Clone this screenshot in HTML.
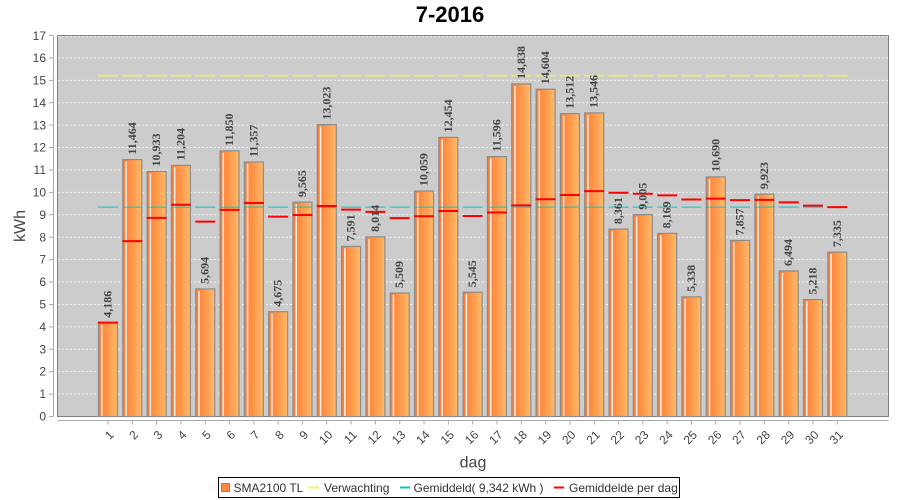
<!DOCTYPE html>
<html><head><meta charset="utf-8"><style>
html,body{margin:0;padding:0;background:#fff;}
svg{display:block;}
.yl{font-family:"Liberation Sans",sans-serif;font-size:12px;fill:#444;text-anchor:end;}
.xl{font-family:"Liberation Sans",sans-serif;font-size:12px;fill:#444;text-anchor:end;}
.bl{font-family:"Liberation Serif",serif;font-size:12px;font-weight:bold;fill:#444;}
.lg{font-family:"Liberation Sans",sans-serif;font-size:12px;fill:#333;}
</style></head><body>
<svg width="900" height="500" viewBox="0 0 900 500" xmlns="http://www.w3.org/2000/svg">
<defs>
<linearGradient id="g" x1="0" x2="1" y1="0" y2="0">
<stop offset="0" stop-color="#ff7a34"/>
<stop offset="0.5" stop-color="#ff984a"/>
<stop offset="1" stop-color="#ffbb6a"/>
</linearGradient>
</defs>
<rect width="900" height="500" fill="#fff"/>
<text x="450" y="22" text-anchor="middle" font-family="Liberation Sans, sans-serif" font-size="22" font-weight="bold" fill="#000">7-2016</text>

<!-- plot area -->
<rect x="57.5" y="35.5" width="831" height="381" fill="#cccccc" stroke="#808080" stroke-width="1"/>
<g stroke="#f4f4f4" stroke-width="1" stroke-dasharray="2 2">
<path d="M58,36.5H888 M58,57.91H888 M58,80.32H888 M58,102.73H888 M58,125.14H888 M58,147.56H888 M58,169.97H888 M58,192.38H888 M58,214.79H888 M58,237.2H888 M58,259.62H888 M58,282.03H888 M58,304.44H888 M58,326.85H888 M58,349.26H888 M58,371.68H888 M58,394.09H888"/>
</g>

<!-- axes -->
<line x1="53.5" y1="35.5" x2="53.5" y2="416.5" stroke="#aaa"/>
<path d="M49,35.5h4 M49,57.91h4 M49,80.32h4 M49,102.73h4 M49,125.14h4 M49,147.56h4 M49,169.97h4 M49,192.38h4 M49,214.79h4 M49,237.2h4 M49,259.62h4 M49,282.03h4 M49,304.44h4 M49,326.85h4 M49,349.26h4 M49,371.68h4 M49,394.09h4 M49,416.5h4" stroke="#aaa"/>
<line x1="57.5" y1="420.5" x2="888.5" y2="420.5" stroke="#aaa"/>
<line x1="107.5" y1="422.5" x2="838" y2="422.5" stroke="#aaa" stroke-width="4" stroke-dasharray="1 23.31"/>

<g class="yl">
<text x="46" y="40">17</text><text x="46" y="62">16</text><text x="46" y="84.5">15</text><text x="46" y="107">14</text><text x="46" y="129.5">13</text><text x="46" y="151.5">12</text><text x="46" y="174">11</text><text x="46" y="196.5">10</text><text x="46" y="219">9</text><text x="46" y="241.5">8</text><text x="46" y="263.5">7</text><text x="46" y="286">6</text><text x="46" y="308.5">5</text><text x="46" y="331">4</text><text x="46" y="353.5">3</text><text x="46" y="375.5">2</text><text x="46" y="398">1</text><text x="46" y="420.5">0</text>
</g>

<!-- bars -->
<g fill="url(#g)" stroke="#8c8c8c" stroke-width="1.2">
<rect x="98.5" y="322.68" width="19" height="93.82"/>
<rect x="122.81" y="159.57" width="19" height="256.93"/>
<rect x="147.12" y="171.47" width="19" height="245.03"/>
<rect x="171.43" y="165.4" width="19" height="251.1"/>
<rect x="195.74" y="288.89" width="19" height="127.61"/>
<rect x="220.05" y="150.92" width="19" height="265.58"/>
<rect x="244.36" y="161.97" width="19" height="254.53"/>
<rect x="268.67" y="311.72" width="19" height="104.78"/>
<rect x="292.98" y="202.13" width="19" height="214.37"/>
<rect x="317.29" y="124.63" width="19" height="291.87"/>
<rect x="341.6" y="246.37" width="19" height="170.13"/>
<rect x="365.91" y="236.89" width="19" height="179.61"/>
<rect x="390.22" y="293.03" width="19" height="123.47"/>
<rect x="414.53" y="191.06" width="19" height="225.44"/>
<rect x="438.84" y="137.38" width="19" height="279.12"/>
<rect x="463.15" y="292.23" width="19" height="124.27"/>
<rect x="487.46" y="156.61" width="19" height="259.89"/>
<rect x="511.77" y="83.95" width="19" height="332.55"/>
<rect x="536.08" y="89.2" width="19" height="327.3"/>
<rect x="560.39" y="113.67" width="19" height="302.83"/>
<rect x="584.7" y="112.91" width="19" height="303.59"/>
<rect x="609.01" y="229.11" width="19" height="187.39"/>
<rect x="633.32" y="214.68" width="19" height="201.82"/>
<rect x="657.63" y="233.42" width="19" height="183.08"/>
<rect x="681.94" y="296.86" width="19" height="119.64"/>
<rect x="706.25" y="176.92" width="19" height="239.58"/>
<rect x="730.56" y="240.41" width="19" height="176.09"/>
<rect x="754.87" y="194.11" width="19" height="222.39"/>
<rect x="779.18" y="270.96" width="19" height="145.54"/>
<rect x="803.49" y="299.55" width="19" height="116.95"/>
<rect x="827.8" y="252.11" width="19" height="164.39"/>
</g>
<g fill="#ffffff" opacity="0.9">
<rect x="101" y="324.68" width="1.5" height="91.32"/>
<rect x="125.31" y="161.57" width="1.5" height="254.43"/>
<rect x="149.62" y="173.47" width="1.5" height="242.53"/>
<rect x="173.93" y="167.4" width="1.5" height="248.6"/>
<rect x="198.24" y="290.89" width="1.5" height="125.11"/>
<rect x="222.55" y="152.92" width="1.5" height="263.08"/>
<rect x="246.86" y="163.97" width="1.5" height="252.03"/>
<rect x="271.17" y="313.72" width="1.5" height="102.28"/>
<rect x="295.48" y="204.13" width="1.5" height="211.87"/>
<rect x="319.79" y="126.63" width="1.5" height="289.37"/>
<rect x="344.1" y="248.37" width="1.5" height="167.63"/>
<rect x="368.41" y="238.89" width="1.5" height="177.11"/>
<rect x="392.72" y="295.03" width="1.5" height="120.97"/>
<rect x="417.03" y="193.06" width="1.5" height="222.94"/>
<rect x="441.34" y="139.38" width="1.5" height="276.62"/>
<rect x="465.65" y="294.23" width="1.5" height="121.77"/>
<rect x="489.96" y="158.61" width="1.5" height="257.39"/>
<rect x="514.27" y="85.95" width="1.5" height="330.05"/>
<rect x="538.58" y="91.2" width="1.5" height="324.8"/>
<rect x="562.89" y="115.67" width="1.5" height="300.33"/>
<rect x="587.2" y="114.91" width="1.5" height="301.09"/>
<rect x="611.51" y="231.11" width="1.5" height="184.89"/>
<rect x="635.82" y="216.68" width="1.5" height="199.32"/>
<rect x="660.13" y="235.42" width="1.5" height="180.58"/>
<rect x="684.44" y="298.86" width="1.5" height="117.14"/>
<rect x="708.75" y="178.92" width="1.5" height="237.08"/>
<rect x="733.06" y="242.41" width="1.5" height="173.59"/>
<rect x="757.37" y="196.11" width="1.5" height="219.89"/>
<rect x="781.68" y="272.96" width="1.5" height="143.04"/>
<rect x="805.99" y="301.55" width="1.5" height="114.45"/>
<rect x="830.3" y="254.11" width="1.5" height="161.89"/>
</g>

<!-- expectation & average lines -->
<line x1="98" y1="75.7" x2="848" y2="75.7" stroke="#e6e68c" stroke-width="2" stroke-dasharray="20 4.31"/>
<line x1="98" y1="207.1" x2="848" y2="207.1" stroke="#00c8c8" stroke-width="1" stroke-dasharray="20 4.31"/>
<path stroke="#ff0000" stroke-width="2" fill="none" d="M98,322.68h20 M122.31,241.13h20 M146.62,217.91h20 M170.93,204.77h20 M195.24,221.61h20 M219.55,209.82h20 M243.86,202.98h20 M268.17,216.58h20 M292.48,214.97h20 M316.79,205.94h20 M341.1,209.61h20 M365.41,211.88h20 M389.72,218.13h20 M414.03,216.2h20 M438.34,210.94h20 M462.65,216.02h20 M486.96,212.53h20 M511.27,205.38h20 M535.58,199.26h20 M559.89,194.98h20 M584.2,191.08h20 M608.51,192.8h20 M632.82,193.77h20 M657.13,195.4h20 M681.44,199.46h20 M705.75,198.61h20 M730.06,200.16h20 M754.37,199.93h20 M778.68,202.38h20 M802.99,205.62h20 M827.3,207.13h20"/>

<!-- value labels -->
<g class="bl">
<text transform="translate(111.5,317.7) rotate(-90)">4,186</text>
<text transform="translate(135.8,154.6) rotate(-90)">11,464</text>
<text transform="translate(160.1,166.5) rotate(-90)">10,933</text>
<text transform="translate(184.4,160.4) rotate(-90)">11,204</text>
<text transform="translate(208.7,283.9) rotate(-90)">5,694</text>
<text transform="translate(233.1,145.9) rotate(-90)">11,850</text>
<text transform="translate(257.4,157) rotate(-90)">11,357</text>
<text transform="translate(281.7,306.7) rotate(-90)">4,675</text>
<text transform="translate(306,197.1) rotate(-90)">9,565</text>
<text transform="translate(330.3,119.6) rotate(-90)">13,023</text>
<text transform="translate(354.6,241.4) rotate(-90)">7,591</text>
<text transform="translate(378.9,231.9) rotate(-90)">8,014</text>
<text transform="translate(403.2,288) rotate(-90)">5,509</text>
<text transform="translate(427.5,186.1) rotate(-90)">10,059</text>
<text transform="translate(451.8,132.4) rotate(-90)">12,454</text>
<text transform="translate(476.2,287.2) rotate(-90)">5,545</text>
<text transform="translate(500.5,151.6) rotate(-90)">11,596</text>
<text transform="translate(524.8,79) rotate(-90)">14,838</text>
<text transform="translate(549.1,84.2) rotate(-90)">14,604</text>
<text transform="translate(573.4,108.7) rotate(-90)">13,512</text>
<text transform="translate(597.7,107.9) rotate(-90)">13,546</text>
<text transform="translate(622,224.1) rotate(-90)">8,361</text>
<text transform="translate(646.3,209.7) rotate(-90)">9,005</text>
<text transform="translate(670.6,228.4) rotate(-90)">8,169</text>
<text transform="translate(694.9,291.9) rotate(-90)">5,338</text>
<text transform="translate(719.3,171.9) rotate(-90)">10,690</text>
<text transform="translate(743.6,235.4) rotate(-90)">7,857</text>
<text transform="translate(767.9,189.1) rotate(-90)">9,923</text>
<text transform="translate(792.2,266) rotate(-90)">6,494</text>
<text transform="translate(816.5,294.6) rotate(-90)">5,218</text>
<text transform="translate(840.8,247.1) rotate(-90)">7,335</text>
</g>

<!-- x labels -->
<g class="xl">
<text transform="translate(114.5,435.5) rotate(-45)">1</text>
<text transform="translate(138.8,435.5) rotate(-45)">2</text>
<text transform="translate(163.1,435.5) rotate(-45)">3</text>
<text transform="translate(187.4,435.5) rotate(-45)">4</text>
<text transform="translate(211.7,435.5) rotate(-45)">5</text>
<text transform="translate(236.1,435.5) rotate(-45)">6</text>
<text transform="translate(260.4,435.5) rotate(-45)">7</text>
<text transform="translate(284.7,435.5) rotate(-45)">8</text>
<text transform="translate(309,435.5) rotate(-45)">9</text>
<text transform="translate(333.3,435.5) rotate(-45)">10</text>
<text transform="translate(357.6,435.5) rotate(-45)">11</text>
<text transform="translate(381.9,435.5) rotate(-45)">12</text>
<text transform="translate(406.2,435.5) rotate(-45)">13</text>
<text transform="translate(430.5,435.5) rotate(-45)">14</text>
<text transform="translate(454.8,435.5) rotate(-45)">15</text>
<text transform="translate(479.2,435.5) rotate(-45)">16</text>
<text transform="translate(503.5,435.5) rotate(-45)">17</text>
<text transform="translate(527.8,435.5) rotate(-45)">18</text>
<text transform="translate(552.1,435.5) rotate(-45)">19</text>
<text transform="translate(576.4,435.5) rotate(-45)">20</text>
<text transform="translate(600.7,435.5) rotate(-45)">21</text>
<text transform="translate(625,435.5) rotate(-45)">22</text>
<text transform="translate(649.3,435.5) rotate(-45)">23</text>
<text transform="translate(673.6,435.5) rotate(-45)">24</text>
<text transform="translate(697.9,435.5) rotate(-45)">25</text>
<text transform="translate(722.3,435.5) rotate(-45)">26</text>
<text transform="translate(746.6,435.5) rotate(-45)">27</text>
<text transform="translate(770.9,435.5) rotate(-45)">28</text>
<text transform="translate(795.2,435.5) rotate(-45)">29</text>
<text transform="translate(819.5,435.5) rotate(-45)">30</text>
<text transform="translate(843.8,435.5) rotate(-45)">31</text>
</g>

<!-- axis titles -->
<text x="473" y="467.5" text-anchor="middle" font-family="Liberation Sans, sans-serif" font-size="16" fill="#444">dag</text>
<text transform="translate(25,226) rotate(-90)" text-anchor="middle" font-family="Liberation Sans, sans-serif" font-size="16" fill="#444">kWh</text>

<!-- legend -->
<rect x="218.5" y="477.5" width="461" height="20" fill="#fff" stroke="#000" stroke-width="1"/>
<rect x="221.5" y="483.5" width="8" height="8" fill="#ff8a45" stroke="#888" stroke-width="1"/>
<text class="lg" x="233.5" y="492">SMA2100 TL</text>
<line x1="308" y1="487.5" x2="319" y2="487.5" stroke="#f0f07a" stroke-width="2"/>
<text class="lg" x="324" y="492">Verwachting</text>
<line x1="400" y1="487.5" x2="410" y2="487.5" stroke="#00c8c8" stroke-width="2"/>
<text class="lg" x="413.5" y="492">Gemiddeld( 9,342 kWh )</text>
<line x1="554" y1="487.5" x2="564" y2="487.5" stroke="#ff0000" stroke-width="2"/>
<text class="lg" x="569" y="492">Gemiddelde per dag</text>
</svg>
</body></html>
